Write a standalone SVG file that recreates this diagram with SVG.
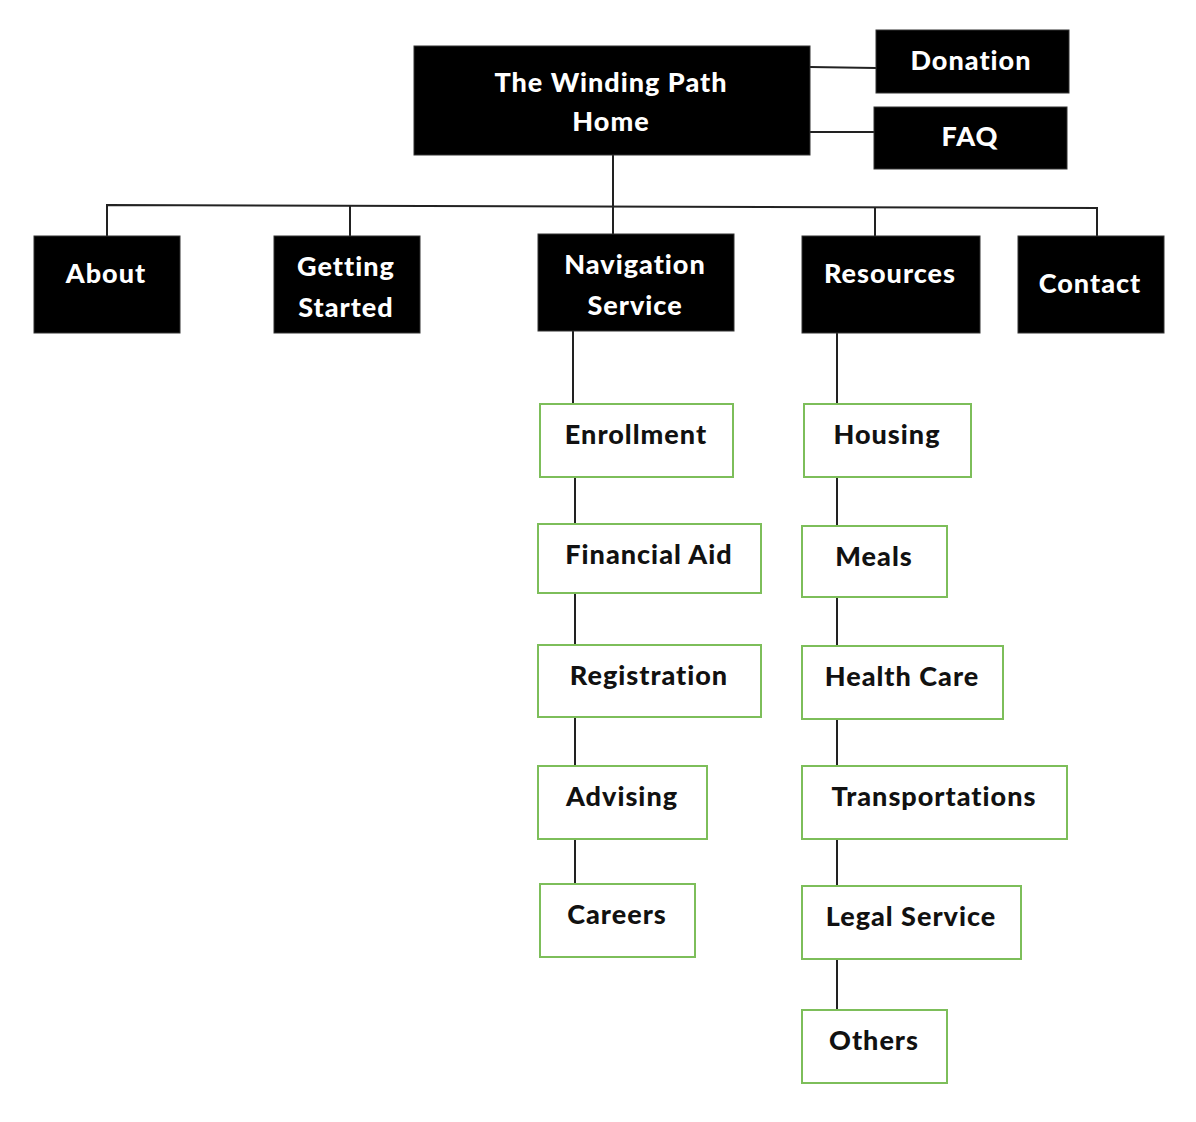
<svg xmlns="http://www.w3.org/2000/svg" width="1196" height="1122" viewBox="0 0 1196 1122">
<style>
.blk{fill:#000;stroke:#333;stroke-width:1}
.grn{fill:#fff;stroke:#7DBE5A;stroke-width:2}
.tw{font-family:Lato,"Open Sans",sans-serif;font-weight:900;font-size:27px;letter-spacing:1px;fill:#fff;text-anchor:middle}
.tb{font-family:Lato,"Open Sans",sans-serif;font-weight:900;font-size:27px;letter-spacing:1px;fill:#111;text-anchor:middle}
.ln{stroke:#222;stroke-width:2;fill:none}
</style>
<rect width="1196" height="1122" fill="#fff"/>
<g id="connectors">
<line class="ln" x1="810" y1="67" x2="876" y2="68"/>
<line class="ln" x1="810" y1="132" x2="874" y2="132"/>
<line class="ln" x1="613" y1="155" x2="613" y2="234"/>
<polyline class="ln" points="107,236 107,205 1097,208 1097,236"/>
<line class="ln" x1="350" y1="205" x2="350" y2="236"/>
<line class="ln" x1="875" y1="207" x2="875" y2="236"/>
<line class="ln" x1="573" y1="331" x2="573" y2="404"/>
<line class="ln" x1="575" y1="477" x2="575" y2="524"/>
<line class="ln" x1="575" y1="593" x2="575" y2="645"/>
<line class="ln" x1="575" y1="717" x2="575" y2="766"/>
<line class="ln" x1="575" y1="839" x2="575" y2="884"/>
<line class="ln" x1="837" y1="333" x2="837" y2="404"/>
<line class="ln" x1="837" y1="477" x2="837" y2="526"/>
<line class="ln" x1="837" y1="597" x2="837" y2="646"/>
<line class="ln" x1="837" y1="719" x2="837" y2="766"/>
<line class="ln" x1="837" y1="839" x2="837" y2="886"/>
<line class="ln" x1="837" y1="959" x2="837" y2="1010"/>
</g>
<g id="home"><rect class="blk" x="414" y="46" width="396" height="109"/><text class="tw" x="611" y="92">The Winding Path</text><text class="tw" x="611" y="131">Home</text></g>
<g id="donation"><rect class="blk" x="876" y="30" width="193" height="63"/><text class="tw" x="971" y="70">Donation</text></g>
<g id="faq"><rect class="blk" x="874" y="107" width="193" height="62"/><text class="tw" x="970" y="146">FAQ</text></g>
<g id="about"><rect class="blk" x="34" y="236" width="146" height="97"/><text class="tw" x="106" y="283">About</text></g>
<g id="getting-started"><rect class="blk" x="274" y="236" width="146" height="97"/><text class="tw" x="346" y="276">Getting</text><text class="tw" x="346" y="317">Started</text></g>
<g id="navigation-service"><rect class="blk" x="538" y="234" width="196" height="97"/><text class="tw" x="635" y="274">Navigation</text><text class="tw" x="635" y="315">Service</text></g>
<g id="resources"><rect class="blk" x="802" y="236" width="178" height="97"/><text class="tw" x="890" y="283">Resources</text></g>
<g id="contact"><rect class="blk" x="1018" y="236" width="146" height="97"/><text class="tw" x="1090" y="293">Contact</text></g>
<g id="enrollment"><rect class="grn" x="540" y="404" width="193" height="73"/><text class="tb" x="636" y="444">Enrollment</text></g>
<g id="financial-aid"><rect class="grn" x="538" y="524" width="223" height="69"/><text class="tb" x="649" y="564">Financial Aid</text></g>
<g id="registration"><rect class="grn" x="538" y="645" width="223" height="72"/><text class="tb" x="649" y="685">Registration</text></g>
<g id="advising"><rect class="grn" x="538" y="766" width="169" height="73"/><text class="tb" x="622" y="806">Advising</text></g>
<g id="careers"><rect class="grn" x="540" y="884" width="155" height="73"/><text class="tb" x="617" y="924">Careers</text></g>
<g id="housing"><rect class="grn" x="804" y="404" width="167" height="73"/><text class="tb" x="887" y="444">Housing</text></g>
<g id="meals"><rect class="grn" x="802" y="526" width="145" height="71"/><text class="tb" x="874" y="566">Meals</text></g>
<g id="health-care"><rect class="grn" x="802" y="646" width="201" height="73"/><text class="tb" x="902" y="686">Health Care</text></g>
<g id="transportations"><rect class="grn" x="802" y="766" width="265" height="73"/><text class="tb" x="934" y="806">Transportations</text></g>
<g id="legal-service"><rect class="grn" x="802" y="886" width="219" height="73"/><text class="tb" x="911" y="926">Legal Service</text></g>
<g id="others"><rect class="grn" x="802" y="1010" width="145" height="73"/><text class="tb" x="874" y="1050">Others</text></g>
</svg>
